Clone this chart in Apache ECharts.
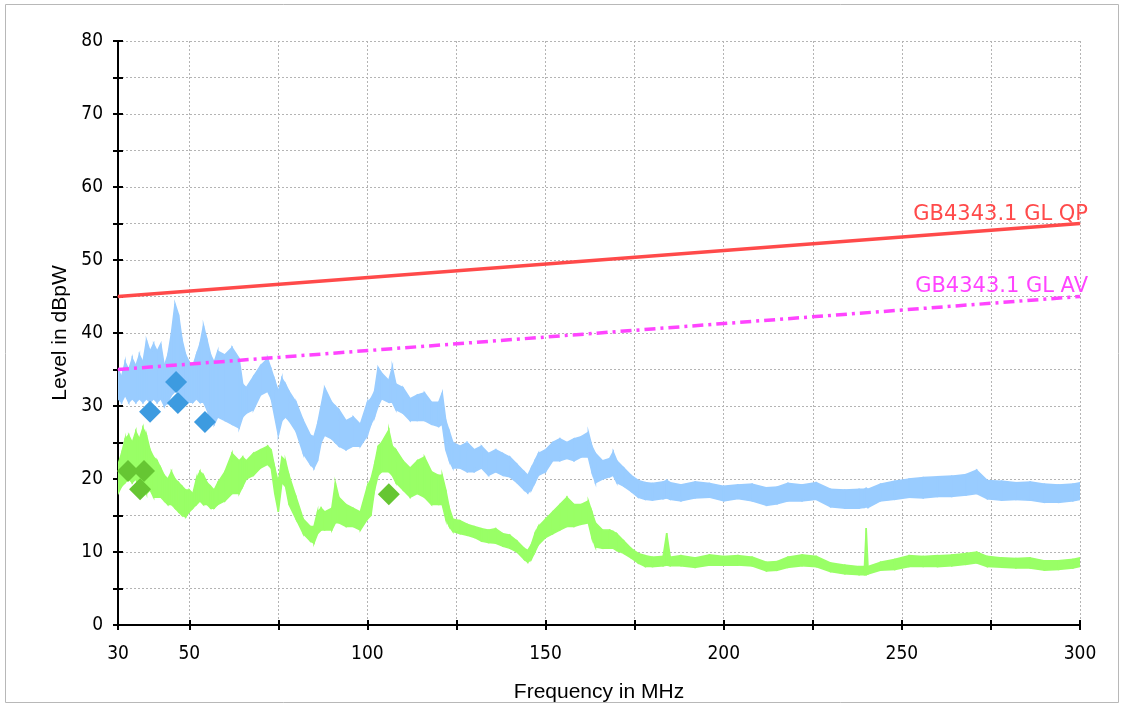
<!DOCTYPE html>
<html>
<head>
<meta charset="utf-8">
<script src="https://cdn.jsdelivr.net/npm/echarts@6/dist/echarts.min.js"></script>
<style>
html, body { margin: 0; padding: 0; background: #fff; }
#main { width: 1121px; height: 705px; }
</style>
</head>
<body>
<div id="main"></div>
<script>
// frequency grid in MHz (shared by both traces)
var freq = [30, 31, 32, 33, 34, 35, 36, 37, 38, 39, 40, 41, 42, 43, 44, 45, 46, 47, 48, 49,
    50, 51, 52, 53, 54, 55, 56, 57, 58, 60, 62, 64, 65, 66, 68, 70, 72, 73, 74, 75,
    76, 77, 78, 80, 82, 84, 85, 86, 87, 88, 90, 91, 92, 94, 96, 98, 100, 101, 102, 103,
    104, 106, 107, 108, 110, 112, 114, 116, 118, 120, 121, 122, 123, 124, 126, 128, 130, 132, 134, 136,
    138, 140, 142, 144, 145, 146, 147, 148, 150, 152, 154, 156, 158, 160, 162, 163, 164, 166, 168, 169,
    170, 172, 174, 176, 178, 180, 183, 184, 185, 188, 192, 196, 200, 204, 208, 212, 215, 218, 222, 226,
    230, 234, 238, 239.5, 240, 240.5, 244, 248, 252, 256, 260, 264, 268, 271, 274, 278, 282, 286, 290, 294,
    298, 300];

// peak trace (light blue), upper / lower edge of the noise band, dBpW
var peakHi = [35, 34, 36, 35, 36.5, 35.5, 37, 36, 39, 37.5, 38.5, 37.5, 38.5, 35.5, 37, 40, 44, 42.5, 39, 37,
    36, 35.5, 37, 38.5, 41, 39, 37, 36, 37.5, 37, 38, 36.5, 33, 32.5, 34, 35.5, 36.5, 35, 33.5, 32,
    33.8, 33, 32, 30.5, 28, 26, 25.8, 27.5, 30, 32.5, 30.5, 30, 29.5, 28, 28.5, 27.5, 30.5, 31, 32, 35.3,
    34.5, 33.5, 35.3, 33, 32.5, 31, 31.5, 31.8, 30.5, 30.5, 31.8, 28, 26.5, 25, 24.5, 25, 24, 24.5, 23.5, 24,
    23.5, 23, 22, 21, 20.5, 21.5, 22.5, 23.5, 24, 25, 25.5, 25, 25.5, 25.8, 26.4, 24.5, 23.5, 22.5, 22.8, 23.7,
    22.5, 21.5, 20.5, 19.8, 19.5, 19.4, 19.6, 19.8, 19.5, 19.2, 19.6, 19.4, 19, 19.2, 19.3, 18.8, 18.9, 19.4, 19.2, 19.5,
    18.6, 18.5, 18.6, 18.6, 18.7, 18.6, 19.3, 19.7, 20, 20.2, 20.3, 20.4, 20.6, 21.2, 19.8, 19.7, 19.5, 19.6, 19.3, 19.2,
    19.3, 19.5];
var peakLo = [31, 30.5, 31.5, 30.5, 31, 30.5, 31, 30.5, 31, 30.5, 31, 30.5, 31, 30, 30.5, 31.5, 32, 32, 31, 30.5,
    30.5, 30.5, 31, 30.5, 30.5, 29.5, 28, 27.5, 28.5, 28, 27.5, 27, 28.5, 29, 29.5, 31.5, 32, 31, 28.5, 26,
    28, 28.5, 28, 26.5, 23.5, 22, 21.5, 22.5, 25, 26, 25.5, 25, 24.5, 24, 24.5, 24.5, 26, 27.5, 28.5, 30,
    31, 30.5, 30.5, 29.5, 29, 28, 28, 28, 27.5, 27.2, 27.5, 24, 22.5, 21.5, 21.5, 21, 21, 21.5, 20.5, 21,
    20.5, 20.3, 19.5, 18.5, 18.1, 18.5, 19.5, 20.5, 21, 22.5, 22.5, 22.8, 22.5, 23, 23, 21, 19.5, 20, 20.3, 20.5,
    19.5, 19, 18.3, 17.5, 17.2, 17.1, 17.3, 17.4, 17.2, 17, 17.4, 17.5, 17, 17.3, 17, 16.4, 16.6, 17, 17, 17.2,
    16.2, 16, 16, 16.1, 16.2, 16.1, 17, 17.2, 17.5, 17.4, 17.6, 17.6, 17.8, 18, 17.3, 17.1, 17.2, 17.1, 16.8, 16.8,
    17, 17.2];

// average trace (light green), upper / lower edge, dBpW
var avgHi = [22, 23.5, 25.5, 26, 25, 26.5, 25.5, 27, 26, 24, 23, 22.5, 21.5, 20.5, 20, 21, 20, 19.5, 19, 18.5,
    18.5, 18, 20, 21, 20.5, 19.5, 19, 18.5, 19.5, 21, 23.5, 22.5, 23, 22.5, 23.5, 24, 24.5, 24, 21.5, 19.5,
    23, 22.5, 20.5, 17.5, 14.5, 13.5, 13.5, 15.5, 16, 15.5, 16, 19.5, 17.5, 16.5, 16, 15.5, 19, 20, 22, 24.5,
    25, 26.7, 24.5, 24, 22.5, 21.5, 22.5, 23, 21, 20.5, 20.5, 18.5, 16, 14.5, 14.3, 13.8, 13.5, 13.2, 13, 13.2,
    12.5, 12.3, 11.5, 10.5, 10.2, 11, 12.5, 13.5, 14.5, 15.5, 16.5, 17.5, 16.5, 16.5, 17, 15.5, 14, 13, 13, 12.8,
    12.5, 11.5, 10.5, 9.8, 9.5, 9.3, 9.4, 12.6, 9.3, 9.5, 9.2, 9.6, 9.4, 9.5, 9.3, 8.6, 8.7, 9.3, 9.6, 9.4,
    8.5, 8.2, 8, 8, 13.3, 8, 8.6, 9, 9.5, 9.4, 9.5, 9.6, 9.8, 10, 9.4, 9.2, 9.1, 9.2, 8.8, 8.8,
    9, 9.2];
var avgLo = [18, 19, 19.5, 20, 19.5, 20, 18.5, 19.5, 18, 18.5, 17.5, 17.5, 17.5, 17, 16.5, 16.5, 16, 15.5, 15, 14.8,
    15.5, 16, 16.5, 17, 16.5, 16.5, 16, 16, 16.5, 17, 18, 18, 19, 20, 20.5, 21.5, 22, 21.5, 18, 15.5,
    19.5, 19, 16.5, 14.5, 12.5, 11.5, 11.2, 12.5, 13, 13, 13, 14, 14, 13.5, 13.5, 13, 14.5, 15, 18.5, 20.5,
    21, 21, 20.5, 19.5, 18.5, 17.5, 18, 17.5, 16.5, 16.5, 16.5, 14.5, 13.5, 12.8, 12.5, 12.3, 12, 11.5, 11.3, 11.2,
    10.8, 10.5, 10, 9, 8.6, 9, 10, 11, 12, 12.5, 13, 13.5, 13.5, 13.8, 14, 12, 10.7, 10.5, 10.5, 10.5,
    10.2, 9.8, 9.2, 8.5, 8, 8, 8.1, 8.2, 8.1, 8.1, 7.9, 8.2, 8.2, 8.2, 8.1, 7.4, 7.5, 7.9, 8.1, 8,
    7.3, 7, 6.9, 6.9, 6.9, 7, 7.5, 7.6, 8, 8, 8, 8.1, 8.3, 8.5, 8, 7.9, 7.8, 7.8, 7.5, 7.6,
    7.8, 8];

// limit lines
var limitFreq = [30, 300];
var qpLimit = [45, 55];
var avLimit = [35, 45];

// final measurement markers
var qpMarkFreq = [39, 46.3, 46.8, 54.4];
var qpMarkLevel = [29.2, 33.3, 30.4, 27.8];
var avMarkFreq = [32.8, 37.3, 36.2, 106];
var avMarkLevel = [21.1, 21.1, 18.6, 17.9];

// tick / label positions on the frequency axis
var xTicks = [30, 50, 75, 100, 125, 150, 175, 200, 225, 250, 275, 300];
var xLabels = [30, 50, 100, 150, 200, 250, 300];

var myChart = echarts.init(document.getElementById('main'), null, { renderer: 'canvas' });

var tickFont = '"DejaVu Sans Condensed", "Liberation Sans Narrow", sans-serif';

// noise band: one quad between neighbouring frequency points
function bandRender(hi, lo, color) {
    return function (params, api) {
        var i = params.dataIndex;
        if (i >= freq.length - 1) {
            return;
        }
        var pts = [
            api.coord([freq[i], lo[i]]),
            api.coord([freq[i], hi[i]]),
            api.coord([freq[i + 1], hi[i + 1]]),
            api.coord([freq[i + 1], lo[i + 1]])
        ];
        return {
            type: 'polygon',
            shape: { points: pts },
            style: { fill: color, stroke: color, lineWidth: 1.5 }
        };
    };
}
function bandData(hi, lo) {
    return freq.map(function (f, i) { return [f, lo[i], hi[i]]; });
}
function limitData(vals, text) {
    return limitFreq.map(function (f, i) {
        if (i === limitFreq.length - 1) {
            return { value: [f, vals[i]], label: { show: true, formatter: text } };
        }
        return [f, vals[i]];
    });
}
function marks(fs, ls) {
    return fs.map(function (f, i) { return [f, ls[i]]; });
}

var gridLine = { show: true, lineStyle: { color: '#b4b4b4', type: [2, 2], width: 1 } };

myChart.setOption({
    animation: false,
    backgroundColor: '#fff',
    graphic: [{
        type: 'rect',
        shape: { x: 5.5, y: 4.5, width: 1113, height: 698 },
        style: { fill: 'none', stroke: '#b8b8b8', lineWidth: 1 },
        silent: true
    }],
    grid: { left: 118, right: 41, top: 41, bottom: 80, outerBoundsMode: 'none', containLabel: false },
    xAxis: [{
        type: 'value',
        position: 'bottom',
        min: 30,
        max: 300,
        name: 'Frequency in MHz',
        nameLocation: 'middle',
        nameGap: 57,
        nameTextStyle: { fontFamily: '"Liberation Sans", Arial, sans-serif', fontSize: 21, color: '#000' },
        axisLine: { show: true, onZero: false, lineStyle: { color: '#000', width: 2 } },
        axisTick: { show: true, length: 5, customValues: xTicks, lineStyle: { color: '#000', width: 2 } },
        axisLabel: { customValues: xLabels, margin: 20, color: '#000', fontSize: 19, fontFamily: tickFont },
        splitLine: gridLine
    }, {
        type: 'value',
        position: 'bottom',
        offset: 0,
        min: 30,
        max: 300,
        axisLine: { show: false, onZero: false },
        axisTick: { show: true, inside: true, length: 5, customValues: xTicks, lineStyle: { color: '#000', width: 2 } },
        axisLabel: { show: false },
        splitLine: { show: false }
    }],
    yAxis: [{
        type: 'value',
        position: 'left',
        min: 0,
        max: 80,
        interval: 5,
        name: 'Level in dBpW',
        nameLocation: 'middle',
        nameGap: 47,
        nameTextStyle: { fontFamily: '"Liberation Sans", Arial, sans-serif', fontSize: 21, color: '#000' },
        axisLine: { show: true, onZero: false, lineStyle: { color: '#000', width: 2 } },
        axisTick: { show: true, length: 5, lineStyle: { color: '#000', width: 2 } },
        axisLabel: {
            margin: 15, color: '#000', fontSize: 19, fontFamily: tickFont,
            formatter: function (v) { return v % 10 === 0 ? String(v) : ''; }
        },
        splitLine: gridLine
    }, {
        type: 'value',
        position: 'left',
        offset: 0,
        min: 0,
        max: 80,
        interval: 5,
        axisLine: { show: false, onZero: false },
        axisTick: { show: true, inside: true, length: 5, lineStyle: { color: '#000', width: 2 } },
        axisLabel: { show: false },
        splitLine: { show: false }
    }],
    series: [{
        name: 'Average',
        type: 'custom',
        renderItem: bandRender(avgHi, avgLo, '#99ff66'),
        data: bandData(avgHi, avgLo),
        encode: { x: 0, y: [1, 2] },
        clip: true,
        z: 2
    }, {
        name: 'Peak',
        type: 'custom',
        renderItem: bandRender(peakHi, peakLo, '#99ccff'),
        data: bandData(peakHi, peakLo),
        encode: { x: 0, y: [1, 2] },
        clip: true,
        z: 2
    }, {
        name: 'GB4343.1 GL QP',
        type: 'line',
        data: limitData(qpLimit, 'GB4343.1 GL QP'),
        symbol: 'circle',
        symbolSize: 1,
        itemStyle: { color: '#ff4a4a' },
        lineStyle: { color: '#ff4a4a', width: 3.5 },
        label: {
            show: false, position: 'top', align: 'right', offset: [8, 7],
            color: '#ff4a4a', fontSize: 21, fontFamily: '"DejaVu Sans", sans-serif'
        },
        z: 4
    }, {
        name: 'GB4343.1 GL AV',
        type: 'line',
        data: limitData(avLimit, 'GB4343.1 GL AV'),
        symbol: 'circle',
        symbolSize: 1,
        itemStyle: { color: '#ff44ff' },
        lineStyle: { color: '#ff44ff', width: 3.5, type: [11, 5, 3, 5] },
        label: {
            show: false, position: 'top', align: 'right', offset: [8, 6],
            color: '#ff44ff', fontSize: 21, fontFamily: '"DejaVu Sans", sans-serif'
        },
        z: 4
    }, {
        name: 'QP marks',
        type: 'scatter',
        data: marks(qpMarkFreq, qpMarkLevel),
        symbol: 'diamond',
        symbolSize: 22,
        itemStyle: { color: '#3d9be0', opacity: 1 },
        z: 5
    }, {
        name: 'AV marks',
        type: 'scatter',
        data: marks(avMarkFreq, avMarkLevel),
        symbol: 'diamond',
        symbolSize: 22,
        itemStyle: { color: '#66c633', opacity: 1 },
        z: 5
    }]
});
</script>
</body>
</html>
